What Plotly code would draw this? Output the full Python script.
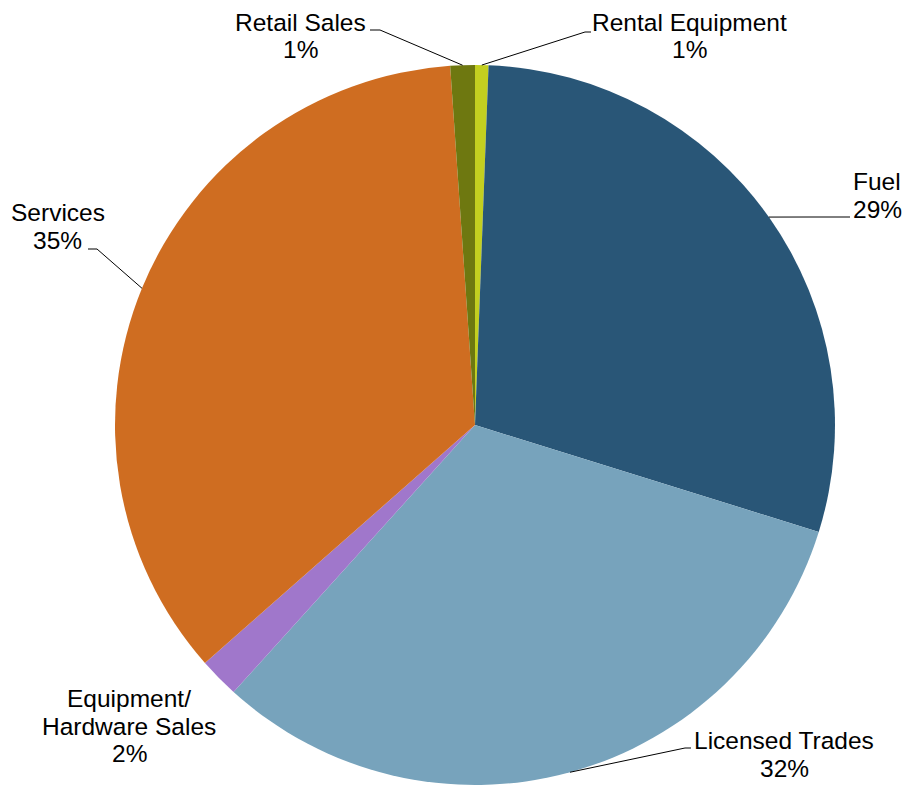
import math
import plotly.graph_objects as go

# ---- data ----
categories = ["Rental Equipment", "Fuel", "Licensed Trades",
              "Equipment/Hardware Sales", "Services", "Retail Sales"]
values = [0.6, 29.2, 31.9, 1.8, 35.4, 1.1]
colors = ["#c3cf20", "#295677", "#77a3bc", "#a077cb", "#cf6d21", "#6e7810"]

# ---- layout constants ----
W, H = 906, 786
CX, CY, R = 475, 425, 360  # pie centre / radius in pixels
FONT = dict(family="Liberation Sans, Arial, sans-serif", size=24.5, color="black")
LINE_H = 27.5

# label block placement (centre x, first baseline y) and leader elbow/end points (pixels)
label_lines = {
    "Rental Equipment": ["Rental Equipment"],
    "Fuel": ["Fuel"],
    "Licensed Trades": ["Licensed Trades"],
    "Equipment/Hardware Sales": ["Equipment/", "Hardware Sales"],
    "Services": ["Services"],
    "Retail Sales": ["Retail Sales"],
}
label_pos = {
    "Rental Equipment": (689, 31),
    "Fuel": (877, 190),
    "Licensed Trades": (784, 749),
    "Equipment/Hardware Sales": (129, 707),
    "Services": (58, 221),
    "Retail Sales": (300, 31),
}
leader = {  # elbow point, end point (pixels); None = no leader
    "Rental Equipment": [(585, 32), (591, 32)],
    "Fuel": [(810, 217), (850, 217)],
    "Licensed Trades": [(685, 748), (691, 748)],
    "Equipment/Hardware Sales": None,
    "Services": [(97, 249), (88, 249)],
    "Retail Sales": [(380, 30), (370, 30)],
}


def px(x):
    return x / W


def py(y):
    return 1 - y / H


fig = go.Figure(go.Pie(
    labels=categories,
    values=values,
    sort=False,
    direction="clockwise",
    rotation=0,
    marker=dict(colors=colors, line=dict(width=0)),
    textinfo="none",
    hoverinfo="skip",
    showlegend=False,
    domain=dict(x=[(CX - R) / W, (CX + R) / W], y=[1 - (CY + R) / H, 1 - (CY - R) / H]),
))

total = sum(values)
annotations = []
shapes = []
cum = 0.0
for cat, v in zip(categories, values):
    mid = (cum + v / 2) / total * 2 * math.pi
    cum += v
    pct = round(v / total * 100)
    tipx = CX + R * math.sin(mid)
    tipy = CY - R * math.cos(mid)
    lines = label_lines[cat] + [f"{pct}%"]
    lx, ly = label_pos[cat]
    for i, t in enumerate(lines):
        base = ly + i * LINE_H
        annotations.append(dict(
            x=px(lx), y=py(base - 8.5), xref="paper", yref="paper",
            text=t, showarrow=False, font=FONT,
            xanchor="center", yanchor="middle",
        ))
    if leader[cat]:
        (ex, ey), (fx, fy) = leader[cat]
        path = (f"M {px(tipx)},{py(tipy)} L {px(ex)},{py(ey)} "
                f"L {px(fx)},{py(fy)}")
        shapes.append(dict(type="path", path=path, xref="paper", yref="paper",
                           line=dict(color="black", width=1)))

fig.update_layout(
    width=W, height=H,
    margin=dict(l=0, r=0, t=0, b=0),
    paper_bgcolor="white", plot_bgcolor="white",
    annotations=annotations,
    shapes=shapes,
)

fig.write_html("out.html", config={"displayModeBar": False},
               post_script="document.body.style.margin='0px';")
